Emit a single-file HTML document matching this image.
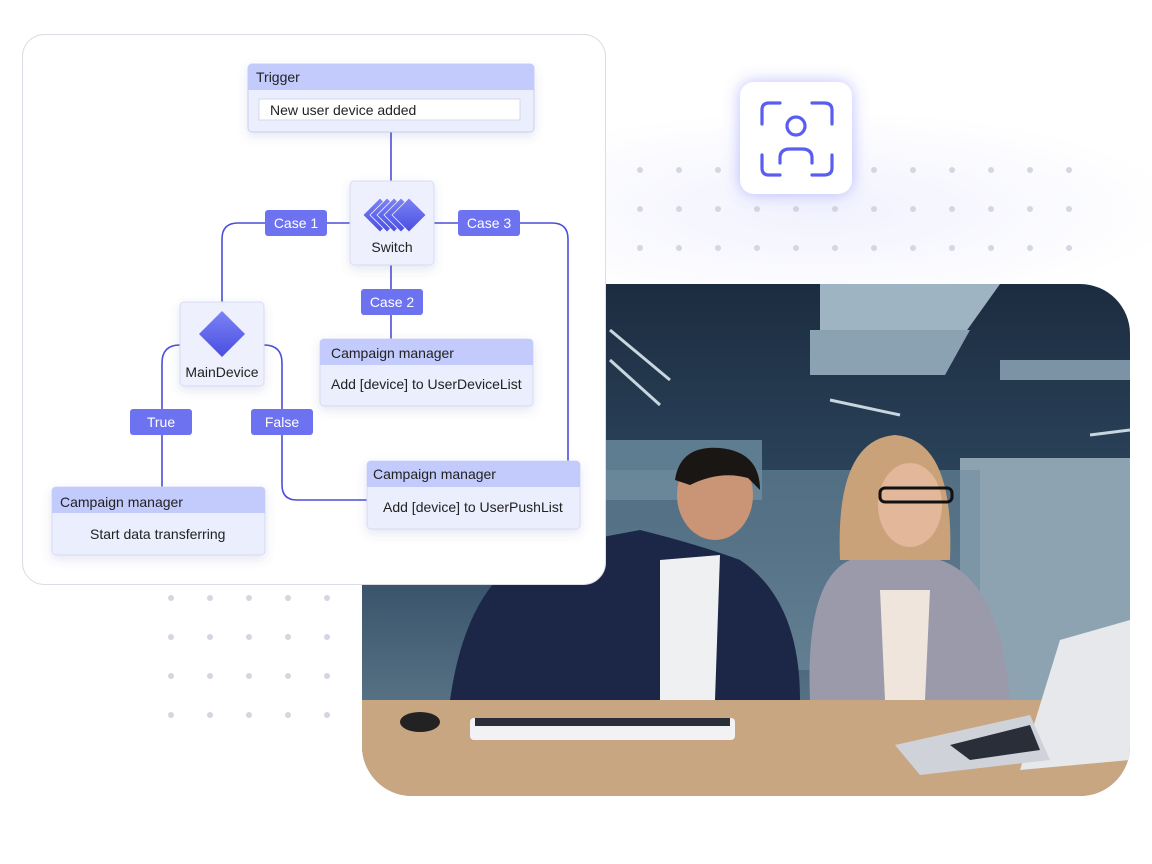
<!DOCTYPE html>
<html><head><meta charset="utf-8"><style>
html,body{margin:0;padding:0;background:#fff;width:1152px;height:864px;overflow:hidden}
svg text{font-family:"Liberation Sans",sans-serif}
</style></head><body>
<svg width="1152" height="864" viewBox="0 0 1152 864" xmlns="http://www.w3.org/2000/svg">
<defs>
<radialGradient id="glow" cx="0.5" cy="0.5" r="0.5"><stop offset="0" stop-color="#f1f2fe"/><stop offset="1" stop-color="#fff"/></radialGradient>
<linearGradient id="dia" x1="0" y1="0" x2="0" y2="1"><stop offset="0" stop-color="#7b83f5"/><stop offset="1" stop-color="#4a4ee0"/></linearGradient>
<linearGradient id="ceil" x1="0" y1="0" x2="0" y2="1"><stop offset="0" stop-color="#1c2c40"/><stop offset="0.5" stop-color="#2f4a62"/><stop offset="1" stop-color="#6d8898"/></linearGradient>
<clipPath id="ph"><path d="M362 284 H1080 A50 50 0 0 1 1130 334 V746 A50 50 0 0 1 1080 796 H412 A50 50 0 0 1 362 746 Z"/></clipPath>
<filter id="sh" x="-20%" y="-20%" width="140%" height="160%"><feDropShadow dx="0" dy="4" stdDeviation="5" flood-color="#5560a0" flood-opacity="0.15"/></filter>
<filter id="glw" x="-40%" y="-40%" width="180%" height="180%"><feDropShadow dx="0" dy="0" stdDeviation="8" flood-color="#6a6cff" flood-opacity="0.45"/></filter>
</defs>
<ellipse cx="820" cy="210" rx="360" ry="100" fill="url(#glow)"/>
<g fill="#d4d6e0">
<g id="drow"><circle cx="640" cy="170" r="3"/><circle cx="679" cy="170" r="3"/><circle cx="718" cy="170" r="3"/><circle cx="757" cy="170" r="3"/><circle cx="796" cy="170" r="3"/><circle cx="835" cy="170" r="3"/><circle cx="874" cy="170" r="3"/><circle cx="913" cy="170" r="3"/><circle cx="952" cy="170" r="3"/><circle cx="991" cy="170" r="3"/><circle cx="1030" cy="170" r="3"/><circle cx="1069" cy="170" r="3"/></g>
<use href="#drow" y="39"/><use href="#drow" y="78"/>
<g id="brow"><circle cx="171" cy="598" r="3"/><circle cx="210" cy="598" r="3"/><circle cx="249" cy="598" r="3"/><circle cx="288" cy="598" r="3"/><circle cx="327" cy="598" r="3"/></g>
<use href="#brow" y="39"/><use href="#brow" y="78"/><use href="#brow" y="117"/>
</g>
<g clip-path="url(#ph)">
<rect x="362" y="284" width="768" height="512" fill="url(#ceil)"/>
<polygon points="820,284 1000,284 960,340 820,340" fill="#9fb4c2"/>
<polygon points="810,330 970,330 945,375 810,375" fill="#8aa2b2"/>
<rect x="1000" y="360" width="130" height="20" fill="#7b93a4"/>
<g stroke="#c8d6e0" stroke-width="3"><line x1="610" y1="330" x2="670" y2="380"/><line x1="610" y1="360" x2="660" y2="405"/><line x1="830" y1="400" x2="900" y2="415"/><line x1="1090" y1="435" x2="1130" y2="430"/></g>
<rect x="362" y="440" width="400" height="60" fill="#5f7d90"/>
<rect x="960" y="458" width="170" height="260" fill="#8ea3b1"/>
<rect x="600" y="470" width="380" height="200" fill="#6f8da0" opacity="0.6"/>
<path d="M450 700 Q470 560 560 545 L640 530 Q700 545 740 560 Q800 600 800 700 Z" fill="#1c2748"/>
<path d="M660 560 L720 555 L715 700 L660 700 Z" fill="#eef0f2"/>
<ellipse cx="715" cy="495" rx="38" ry="45" fill="#c99576"/>
<path d="M675 480 Q680 445 720 448 Q760 452 760 490 L748 478 Q720 470 690 485 Z" fill="#1a1614"/>
<path d="M810 700 Q805 580 850 560 L940 560 Q1000 580 1010 700 Z" fill="#9a9aaa"/>
<path d="M880 590 L930 590 L925 700 L885 700 Z" fill="#efe5dc"/>
<path d="M840 560 Q835 440 895 435 Q955 440 950 560 Z" fill="#c9a27a"/>
<ellipse cx="910" cy="505" rx="32" ry="42" fill="#e2b79a"/>
<rect x="880" y="488" width="72" height="14" rx="5" fill="none" stroke="#111" stroke-width="3"/>
<rect x="362" y="700" width="768" height="96" fill="#c9a682"/>
<rect x="470" y="718" width="265" height="22" rx="4" fill="#f2f2f4"/>
<rect x="475" y="718" width="255" height="8" fill="#2a2e38"/>
<polygon points="1130,620 1060,640 1020,770 1130,760" fill="#e6e8ec"/>
<polygon points="895,745 1030,715 1050,760 920,775" fill="#cfd2d8"/>
<polygon points="950,745 1030,725 1040,750 970,760" fill="#2a2e38"/>
<ellipse cx="420" cy="722" rx="20" ry="10" fill="#222"/>
</g>
<rect x="22.5" y="34.5" width="583" height="550" rx="22" fill="#fff" stroke="#dcdce4"/>
<g fill="none" stroke="#4b4fd8" stroke-width="1.6">
<path d="M391 132 V181"/>
<path d="M350 223 H238 Q222 223 222 239 V302"/>
<path d="M434 223 H552 Q568 223 568 239 V461"/>
<path d="M391 265 V339"/>
<path d="M180 345 Q162 345 162 363 V487"/>
<path d="M264 345 Q282 345 282 363 V485 Q282 500 297 500 H367"/>
</g>
<g filter="url(#sh)"><rect x="248" y="64" width="286" height="68" rx="4" fill="#eaeefd" stroke="#c8cff5"/></g>
<path d="M252 64 H530 Q534 64 534 68 V90 H248 V68 Q248 64 252 64Z" fill="#c2cbfb"/>
<text x="256" y="82" font-size="14" fill="#222">Trigger</text>
<rect x="259" y="99" width="261" height="21" fill="#fff" stroke="#d4d8ea"/>
<text x="270" y="115" font-size="14" fill="#222">New user device added</text>
<g filter="url(#sh)"><rect x="350" y="181" width="84" height="84" rx="4" fill="#eef0fd" stroke="#d6dbf4"/></g>
<g fill="url(#dia)" stroke="#eef0fd" stroke-width="0.8">
<polygon points="380,198 397,215 380,232 363,215"/>
<polygon points="387,198 404,215 387,232 370,215"/>
<polygon points="394,198 411,215 394,232 377,215"/>
<polygon points="401,198 418,215 401,232 384,215"/>
<polygon points="409,198 426,215 409,232 392,215"/>
</g>
<text x="392" y="252" font-size="14" fill="#222" text-anchor="middle">Switch</text>
<g filter="url(#sh)"><rect x="180" y="302" width="84" height="84" rx="4" fill="#eef0fd" stroke="#d6dbf4"/></g>
<polygon points="222,311 245,334 222,357 199,334" fill="url(#dia)"/>
<text x="222" y="377" font-size="14" fill="#222" text-anchor="middle">MainDevice</text>
<g font-size="14" fill="#fff" text-anchor="middle">
<rect x="265" y="210" width="62" height="26" rx="3" fill="#6c72f0"/><text x="296" y="228">Case 1</text>
<rect x="458" y="210" width="62" height="26" rx="3" fill="#6c72f0"/><text x="489" y="228">Case 3</text>
<rect x="361" y="289" width="62" height="26" rx="3" fill="#6c72f0"/><text x="392" y="307">Case 2</text>
<rect x="130" y="409" width="62" height="26" rx="3" fill="#6c72f0"/><text x="161" y="427">True</text>
<rect x="251" y="409" width="62" height="26" rx="3" fill="#6c72f0"/><text x="282" y="427">False</text>
</g>
<g filter="url(#sh)">
<rect x="320" y="339" width="213" height="67" rx="4" fill="#eaeefd" stroke="#d6dbf4"/>
<rect x="367" y="461" width="213" height="68" rx="4" fill="#eaeefd" stroke="#d6dbf4"/>
<rect x="52" y="487" width="213" height="68" rx="4" fill="#eaeefd" stroke="#d6dbf4"/>
</g>
<path d="M324 339 H529 Q533 339 533 343 V365 H320 V343 Q320 339 324 339Z" fill="#c2cbfb"/>
<path d="M371 461 H576 Q580 461 580 465 V487 H367 V465 Q367 461 371 461Z" fill="#c2cbfb"/>
<path d="M56 487 H261 Q265 487 265 491 V513 H52 V491 Q52 487 56 487Z" fill="#c2cbfb"/>
<g font-size="14" fill="#222">
<text x="331" y="358">Campaign manager</text>
<text x="331" y="389">Add [device] to UserDeviceList</text>
<text x="373" y="479">Campaign manager</text>
<text x="383" y="512">Add [device] to UserPushList</text>
<text x="60" y="507">Campaign manager</text>
<text x="90" y="539">Start data transferring</text>
</g>
<g filter="url(#glw)"><rect x="740" y="82" width="112" height="112" rx="14" fill="#fff"/></g>
<g fill="none" stroke="#5a5ef0" stroke-width="3.2" stroke-linecap="round">
<path d="M762 124 V110 Q762 103 769 103 H780"/>
<path d="M812 103 H824 Q832 103 832 110 V124"/>
<path d="M762 155 V168 Q762 175 769 175 H780"/>
<path d="M812 175 H824 Q832 175 832 168 V155"/>
<circle cx="796" cy="126" r="9"/>
<path d="M780 163 V158 Q780 149 790 149 H802 Q812 149 812 158 V163"/>
</g>
</svg>
</body></html>
